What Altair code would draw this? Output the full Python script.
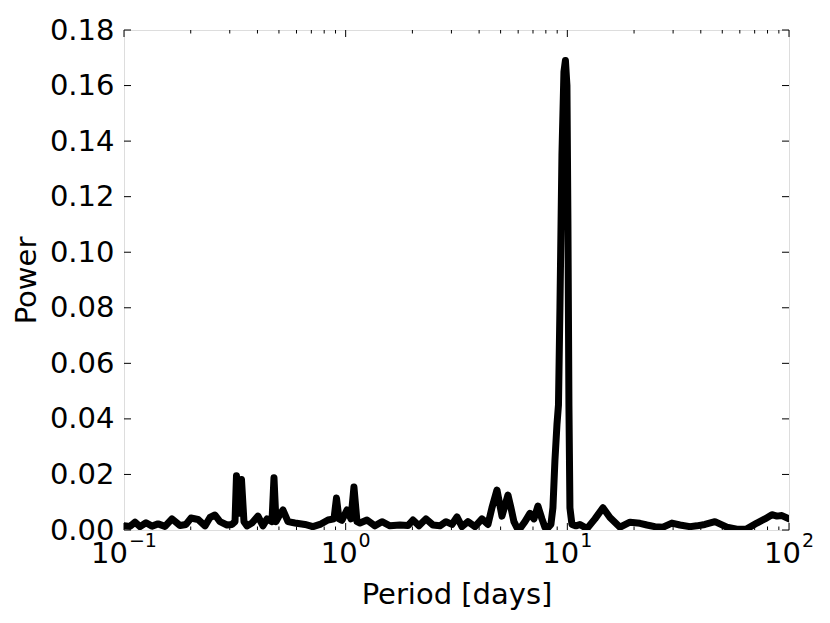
import altair as alt
import pandas as pd

# ---- data ----
period = [0.1000, 0.1064, 0.1121, 0.1181, 0.1257, 0.1338, 0.1424, 0.1531, 0.1646, 0.1789,
          0.1904, 0.2005, 0.2157, 0.2320, 0.2443, 0.2573, 0.2710, 0.2915, 0.3070, 0.3168,
          0.3217, 0.3285, 0.3388, 0.3477, 0.3588, 0.3779, 0.4022, 0.4236, 0.4416, 0.4651,
          0.4749, 0.4849, 0.5002, 0.5215, 0.5492, 0.5907, 0.6552, 0.7121, 0.7656, 0.8322,
          0.8856, 0.9090, 0.9329, 0.9623, 1.0137, 1.0566, 1.0899, 1.1247, 1.1602, 1.2478,
          1.3558, 1.4578, 1.5842, 1.7575, 1.9099, 2.0117, 2.1408, 2.3020, 2.4760, 2.6628,
          2.8343, 3.0163, 3.1770, 3.3465, 3.5612, 3.8313, 4.1191, 4.3848, 4.5708, 4.8148,
          5.0713, 5.3972, 5.5674, 5.7430, 5.9259, 6.1128, 6.4380, 6.7810, 7.0685, 7.3684,
          7.6811, 7.9245, 8.1747, 8.4333, 8.6099, 8.7902, 8.9790, 9.1200, 9.2610, 9.4550,
          9.6540, 9.8040, 9.9590, 10.063, 10.167, 10.273, 10.489, 10.935, 11.399, 12.257,
          13.322, 14.477, 15.567, 17.278, 19.163, 21.261, 22.858, 24.844, 27.001, 29.628,
          32.200, 35.727, 38.412, 41.752, 46.322, 49.286, 52.480, 58.211, 64.580, 71.640,
          77.871, 83.743, 88.210, 92.900, 100.00]
power = [0.0015, 0.0013, 0.0028, 0.0012, 0.0026, 0.0014, 0.0022, 0.0013, 0.0040, 0.0016,
         0.0020, 0.0043, 0.0038, 0.0015, 0.0045, 0.0054, 0.0030, 0.0018, 0.0020, 0.0030,
         0.0195, 0.0060, 0.0182, 0.0030, 0.0015, 0.0025, 0.0050, 0.0015, 0.0040, 0.0030,
         0.0188, 0.0030, 0.0050, 0.0072, 0.0030, 0.0025, 0.0020, 0.0012, 0.0020, 0.0036,
         0.0040, 0.0115, 0.0040, 0.0035, 0.0072, 0.0040, 0.0155, 0.0030, 0.0025, 0.0036,
         0.0015, 0.0030, 0.0015, 0.0018, 0.0016, 0.0036, 0.0015, 0.0040, 0.0018, 0.0015,
         0.0030, 0.0020, 0.0047, 0.0012, 0.0030, 0.0012, 0.0040, 0.0020, 0.0080, 0.0144,
         0.0050, 0.0126, 0.0080, 0.0030, 0.0008, 0.0005, 0.0030, 0.0060, 0.0040, 0.0086,
         0.0040, 0.0010, 0.0008, 0.0020, 0.0080, 0.0250, 0.0380, 0.0450, 0.0800, 0.1350,
         0.1650, 0.1690, 0.1600, 0.1100, 0.0450, 0.0080, 0.0020, 0.0015, 0.0020, 0.0005,
         0.0040, 0.0080, 0.0045, 0.0010, 0.0028, 0.0024, 0.0018, 0.0012, 0.0010, 0.0025,
         0.0018, 0.0012, 0.0015, 0.0020, 0.0030, 0.0020, 0.0010, 0.0003, 0.0004, 0.0025,
         0.0040, 0.0055, 0.0050, 0.0052, 0.0040]

x_major = [0.1, 1, 10, 100]
x_exponents = ["\u22121", "0", "1", "2"]
x_minor = [m * d for d in [0.1, 1, 10] for m in range(2, 10)]
y_ticks = [0.00, 0.02, 0.04, 0.06, 0.08, 0.10, 0.12, 0.14, 0.16, 0.18]

W, H = 665, 500
FONT = "DejaVu Sans"
FS = 29
EXP_FS = 19

df = pd.DataFrame({"period": period, "power": power})
xscale = alt.Scale(type="log", domain=[0.1, 100], nice=False)
yscale = alt.Scale(domain=[0, 0.18], nice=False, zero=False)

line = alt.Chart(df).mark_line(
    color="black", strokeWidth=7, strokeJoin="round", strokeCap="round", clip=True
).encode(
    x=alt.X("period:Q", scale=xscale,
            axis=alt.Axis(labels=False, ticks=False, domain=False, grid=False,
                          title="Period [days]", titleFont=FONT, titleFontSize=FS,
                          titleFontWeight="normal", titleColor="black",
                          titleX=W / 2, titleY=73, titleAlign="center",
                          titleBaseline="alphabetic")),
    y=alt.Y("power:Q", scale=yscale,
            axis=alt.Axis(values=y_ticks, format=".2f", ticks=False, domain=False, grid=False,
                          labelFont=FONT, labelFontSize=FS, labelColor="black",
                          labelPadding=10, labelOverlap=False, labelFlush=False,
                          title="Power", titleFont=FONT, titleFontSize=FS,
                          titleFontWeight="normal", titleColor="black",
                          titleAngle=-90, titleX=-89, titleY=H / 2,
                          titleAlign="center", titleBaseline="alphabetic")),
)

xmaj = pd.DataFrame({"p": x_major})
xmin = pd.DataFrame({"p": x_minor})
ydf = pd.DataFrame({"v": y_ticks})

def xtick(data, y1, y2):
    return alt.Chart(data).mark_rule(color="black", strokeWidth=1).encode(
        x=alt.X("p:Q", scale=xscale), y=alt.value(y1), y2=alt.value(y2))

def ytick(x1, x2):
    return alt.Chart(ydf).mark_rule(color="black", strokeWidth=1).encode(
        y=alt.Y("v:Q", scale=yscale), x=alt.value(x1), x2=alt.value(x2))

ticks = [
    xtick(xmaj, H, H - 7), xtick(xmaj, 0, 7),
    xtick(xmin, H, H - 3.5), xtick(xmin, 0, 3.5),
    ytick(0, 7), ytick(W, W - 7),
]

labels = []
base_w = 2 * 0.636 * FS
for v, e in zip(x_major, x_exponents):
    ew = sum((0.838 if ch == "\u2212" else 0.636) for ch in e) * EXP_FS
    total = base_w + 1 + ew
    d = pd.DataFrame({"p": [v], "b": ["10"], "e": [e]})
    labels.append(alt.Chart(d).mark_text(
        align="left", baseline="alphabetic", dx=-total / 2, font=FONT, fontSize=FS,
        color="black").encode(x=alt.X("p:Q", scale=xscale), y=alt.value(H + 33), text="b:N"))
    labels.append(alt.Chart(d).mark_text(
        align="left", baseline="alphabetic", dx=-total / 2 + base_w + 1, font=FONT,
        fontSize=EXP_FS, color="black").encode(
        x=alt.X("p:Q", scale=xscale), y=alt.value(H + 17), text="e:N"))

chart = alt.layer(line, *ticks, *labels).properties(
    width=W, height=H,
    autosize=alt.AutoSizeParams(type="none"),
    padding={"left": 116, "top": 22, "right": 33, "bottom": 85},
).configure_view(stroke="black", strokeWidth=1.2).configure(background="white")

chart.save("out.html", embed_options={"renderer": "svg", "actions": False})
